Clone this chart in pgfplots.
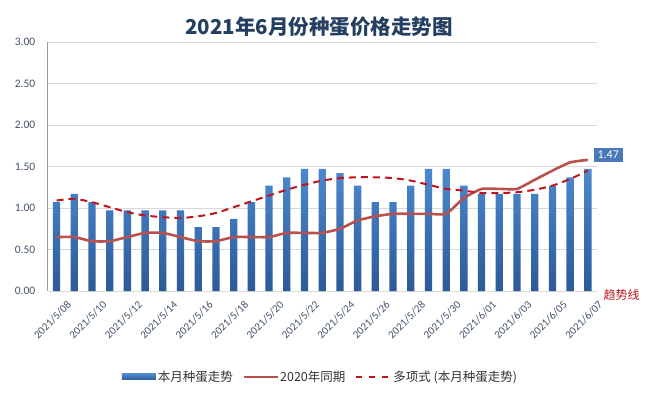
\documentclass[border=0pt]{standalone}
\usepackage{pgfplots}
\pgfplotsset{compat=1.18}
\usepackage{fontspec}
\setmainfont{Carlito}
\newfontfamily\cjk{Noto Sans CJK SC}
\definecolor{barblue}{HTML}{3E74BC}
\definecolor{bartop}{HTML}{4C88CF}
\definecolor{barbot}{HTML}{2C5A98}
\definecolor{line20}{HTML}{B9524F}
\definecolor{trend}{HTML}{C0141C}
\definecolor{titlec}{HTML}{243F60}
\definecolor{tickc}{HTML}{44546A}
\definecolor{gridc}{HTML}{D9D9D9}
\definecolor{boxc}{HTML}{4A78B8}
\begin{document}
\begin{tikzpicture}[x=1pt,y=1pt]
\path[use as bounding box, fill=white] (0,0) rectangle (647,399);
\node[font=\cjk\bfseries\fontsize{20.5}{23}\selectfont, text=titlec] at (319,372) {2021年6月份种蛋价格走势图};
\begin{axis}[
  at={(47.7pt,108pt)}, anchor=south west,
  scale only axis, width=549pt, height=249pt,
  xmin=-0.5, xmax=30.5, ymin=0, ymax=3,
  ytick={0,0.5,...,3},
  ymajorgrids, grid style={gridc, line width=0.8pt},
  axis x line*=bottom, axis y line*=left,
  x axis line style={gridc, line width=0.8pt, -},
  y axis line style={gray!80, line width=0.8pt, -},
  major tick length=0pt,
  /pgf/number format/assume math mode=true,
  yticklabel style={/pgf/number format/fixed, /pgf/number format/fixed zerofill, /pgf/number format/precision=2, font=\fontsize{11.5}{13}\selectfont, text=tickc, xshift=-9pt},
  xtick={0,2,...,30},
  xticklabels={2021/5/08,2021/5/10,2021/5/12,2021/5/14,2021/5/16,2021/5/18,2021/5/20,2021/5/22,2021/5/24,2021/5/26,2021/5/28,2021/5/30,2021/6/01,2021/6/03,2021/6/05,2021/6/07},
  xticklabel style={rotate=45, anchor=north east, font=\fontsize{11}{13}\selectfont, text=tickc, xshift=4pt, yshift=-10pt},
  legend style={at={(0.497,-0.345)}, anchor=center, draw=none, fill=none, legend columns=3,
    font=\cjk\fontsize{12.5}{14}\selectfont, text=black!80,
    /tikz/every even column/.append style={column sep=8pt}},
  clip=false,
]
\addplot[ybar, bar width=7.3pt, draw=none, top color=bartop, bottom color=barbot,
  legend image code/.code={\fill[barblue] (0pt,-3pt) rectangle (34pt,3pt);}]
 coordinates {
 (0,1.07) (1,1.17) (2,1.07) (3,0.97) (4,0.97) (5,0.97) (6,0.97) (7,0.97)
 (8,0.77) (9,0.77) (10,0.87) (11,1.07) (12,1.27) (13,1.37) (14,1.47) (15,1.47)
 (16,1.42) (17,1.27) (18,1.07) (19,1.07) (20,1.27) (21,1.47) (22,1.47) (23,1.27)
 (24,1.17) (25,1.17) (26,1.17) (27,1.17) (28,1.27) (29,1.37) (30,1.47)};
\addlegendentry{本月种蛋走势}
\addplot[line20, line width=2.6pt, smooth, tension=0.3, mark=none,
  legend image code/.code={\draw[line20, line width=1.2pt] (0pt,0pt) -- (34pt,0pt);}]
 coordinates {
 (0,0.65) (1,0.65) (2,0.60) (3,0.60) (4,0.65) (5,0.70) (6,0.70) (7,0.65)
 (8,0.60) (9,0.60) (10,0.65) (11,0.65) (12,0.65) (13,0.70) (14,0.70) (15,0.70)
 (16,0.75) (17,0.85) (18,0.90) (19,0.93) (20,0.93) (21,0.93) (22,0.93) (23,1.12)
 (24,1.23) (25,1.23) (26,1.23) (27,1.34) (28,1.45) (29,1.55) (30,1.58)};
\addlegendentry{2020年同期}
\addplot[trend, line width=2pt, dash pattern=on 7pt off 5pt, smooth, mark=none,
  legend image code/.code={\draw[trend, line width=2pt, dash pattern=on 6pt off 7pt] (0pt,0pt) -- (34pt,0pt);}]
 coordinates {
 (0,1.09) (1,1.11) (2,1.07) (3,1.01) (4,0.95) (5,0.91) (6,0.89) (7,0.88)
 (8,0.90) (9,0.94) (10,1.01) (11,1.08) (12,1.15) (13,1.22) (14,1.28) (15,1.33)
 (16,1.36) (17,1.37) (18,1.37) (19,1.36) (20,1.33) (21,1.28) (22,1.23) (23,1.21)
 (24,1.18) (25,1.18) (26,1.19) (27,1.22) (28,1.27) (29,1.35) (30,1.45)};
\addlegendentry{多项式 (本月种蛋走势)}
\node[fill=boxc, text=white, font=\fontsize{12}{14}\selectfont, inner xsep=4pt, inner ysep=3pt] at (axis cs:31.15,1.64) {1.47};
\node[text=trend, font=\cjk\fontsize{12}{14}\selectfont] at (axis cs:31.9,-0.05) {趋势线};
\end{axis}
\end{tikzpicture}
\end{document}
